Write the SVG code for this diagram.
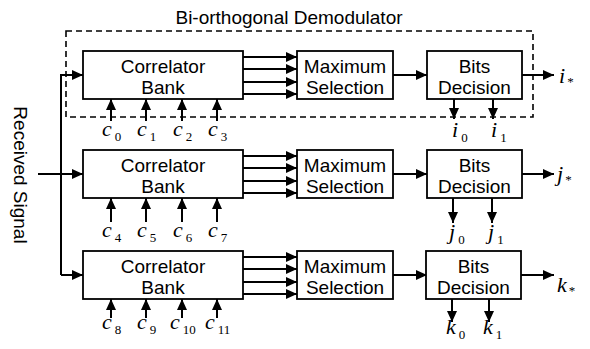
<svg xmlns="http://www.w3.org/2000/svg" width="590" height="349" viewBox="0 0 590 349">
<style>
.box{fill:#fff;stroke:#000;stroke-width:1.8}
.ln{fill:none;stroke:#000;stroke-width:2}
.t{font-family:"Liberation Sans",Arial,sans-serif;font-size:19px;fill:#000;text-anchor:middle}
.m{font-family:"Liberation Serif","Times New Roman",serif;font-style:italic;font-size:22px;fill:#000}
.s{font-family:"Liberation Serif","Times New Roman",serif;font-style:normal;font-size:13px}
</style>
<defs>
<marker id="ah" markerUnits="userSpaceOnUse" markerWidth="11" markerHeight="10" refX="11" refY="5" orient="auto">
<path d="M0,0 L11,5 L0,10 Z" fill="#000"/>
</marker>
</defs>
<rect x="66" y="31" width="467" height="86" fill="none" stroke="#000" stroke-width="1.6" stroke-dasharray="6,4"/>
<text class="t" x="289" y="24">Bi-orthogonal Demodulator</text>
<text class="t" transform="translate(14,175) rotate(90)">Received Signal</text>
<g id="connectors" class="ln" marker-end="url(#ah)">
<path d="M38,174 H61" marker-end="none"/>
<path d="M61,275 V75 H83"/>
<path d="M61,174 H83"/>
<path d="M61,275 H83"/>
<path d="M243,57 H297"/><path d="M243,69 H297"/><path d="M243,82 H297"/><path d="M243,94 H297"/>
<path d="M243,156 H297"/><path d="M243,168 H297"/><path d="M243,181 H297"/><path d="M243,193 H297"/>
<path d="M243,257 H297"/><path d="M243,269 H297"/><path d="M243,282 H297"/><path d="M243,294 H297"/>
<path d="M393,75 H427"/><path d="M393,174 H427"/><path d="M393,275 H427"/>
<path d="M522,75 H554"/><path d="M522,174 H554"/><path d="M521,275 H554"/>
<path d="M111,121 V99"/><path d="M146,121 V99"/><path d="M182,121 V99"/><path d="M217,121 V99"/>
<path d="M111,222 V198"/><path d="M146,222 V198"/><path d="M182,222 V198"/><path d="M217,222 V198"/>
<path d="M111,318 V299"/><path d="M146,318 V299"/><path d="M182,318 V299"/><path d="M217,318 V299"/>
<path d="M454,99 V119"/><path d="M493,99 V119"/>
<path d="M453,198 V223"/><path d="M492,198 V223"/>
<path d="M452,299 V322"/><path d="M489,299 V322"/>
</g>
<g id="corr1"><rect class="box" x="83" y="51" width="160" height="48"/><text class="t" x="163" y="73">Correlator</text><text class="t" x="163" y="94">Bank</text></g>
<g id="max1"><rect class="box" x="297" y="51" width="96" height="48"/><text class="t" x="345" y="73">Maximum</text><text class="t" x="345" y="94">Selection</text></g>
<g id="bits1"><rect class="box" x="427" y="51" width="95" height="48"/><text class="t" x="474.5" y="73">Bits</text><text class="t" x="474.5" y="94">Decision</text></g>
<g id="corr2"><rect class="box" x="83" y="150" width="160" height="48"/><text class="t" x="163" y="172">Correlator</text><text class="t" x="163" y="193">Bank</text></g>
<g id="max2"><rect class="box" x="297" y="150" width="96" height="48"/><text class="t" x="345" y="172">Maximum</text><text class="t" x="345" y="193">Selection</text></g>
<g id="bits2"><rect class="box" x="427" y="150" width="95" height="48"/><text class="t" x="474.5" y="172">Bits</text><text class="t" x="474.5" y="193">Decision</text></g>
<g id="corr3"><rect class="box" x="83" y="251" width="160" height="48"/><text class="t" x="163" y="273">Correlator</text><text class="t" x="163" y="294">Bank</text></g>
<g id="max3"><rect class="box" x="297" y="251" width="96" height="48"/><text class="t" x="345" y="273">Maximum</text><text class="t" x="345" y="294">Selection</text></g>
<g id="bits3"><rect class="box" x="426" y="251" width="95" height="48"/><text class="t" x="473.5" y="273">Bits</text><text class="t" x="473.5" y="294">Decision</text></g>
<g id="labels">
<text class="m" x="102" y="136">c<tspan class="s" dx="3" dy="5">0</tspan></text>
<text class="m" x="137" y="136">c<tspan class="s" dx="3" dy="5">1</tspan></text>
<text class="m" x="173" y="136">c<tspan class="s" dx="3" dy="5">2</tspan></text>
<text class="m" x="208" y="136">c<tspan class="s" dx="3" dy="5">3</tspan></text>
<text class="m" x="102" y="237">c<tspan class="s" dx="3" dy="5">4</tspan></text>
<text class="m" x="137" y="237">c<tspan class="s" dx="3" dy="5">5</tspan></text>
<text class="m" x="173" y="237">c<tspan class="s" dx="3" dy="5">6</tspan></text>
<text class="m" x="208" y="237">c<tspan class="s" dx="3" dy="5">7</tspan></text>
<text class="m" x="102" y="329">c<tspan class="s" dx="3" dy="5">8</tspan></text>
<text class="m" x="137" y="329">c<tspan class="s" dx="3" dy="5">9</tspan></text>
<text class="m" x="170" y="329">c<tspan class="s" dx="3" dy="5">10</tspan></text>
<text class="m" x="205" y="329">c<tspan class="s" dx="3" dy="5">11</tspan></text>
<text class="m" x="452" y="137">i<tspan class="s" dx="3" dy="5">0</tspan></text>
<text class="m" x="491" y="137">i<tspan class="s" dx="3" dy="5">1</tspan></text>
<text class="m" x="449" y="239">j<tspan class="s" dx="3" dy="5">0</tspan></text>
<text class="m" x="488" y="239">j<tspan class="s" dx="3" dy="5">1</tspan></text>
<text class="m" x="446" y="334">k<tspan class="s" dx="3" dy="5">0</tspan></text>
<text class="m" x="483" y="334">k<tspan class="s" dx="3" dy="5">1</tspan></text>
<text class="m" x="559" y="83">i<tspan class="s" dx="2" dy="3">*</tspan></text>
<text class="m" x="557" y="181">j<tspan class="s" dx="2" dy="3">*</tspan></text>
<text class="m" x="557" y="292">k<tspan class="s" dx="2" dy="3">*</tspan></text>
</g>
</svg>
